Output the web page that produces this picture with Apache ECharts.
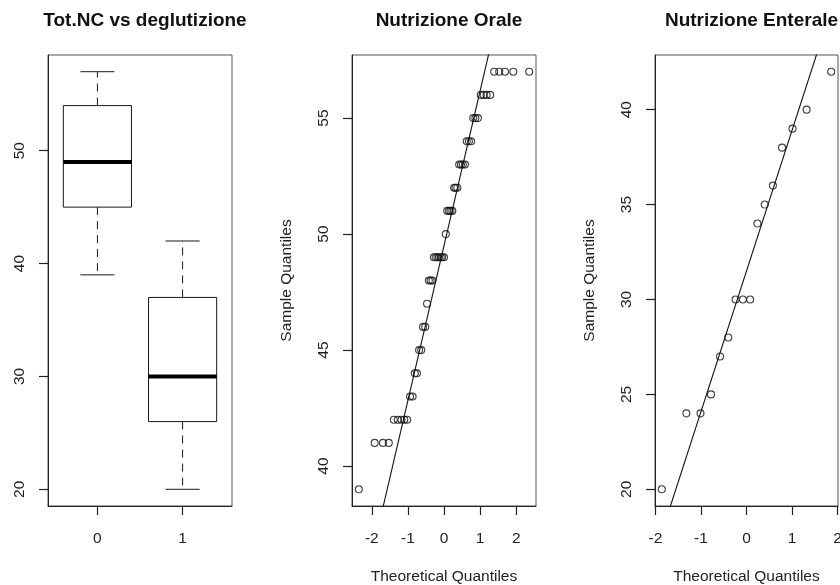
<!DOCTYPE html>
<html>
<head>
<meta charset="utf-8">
<title>Tot.NC vs deglutizione</title>
<script src="https://cdn.jsdelivr.net/npm/echarts@6/dist/echarts.min.js"></script>
<style>
  html, body { margin: 0; padding: 0; background: #fff; }
  #chart { width: 840px; height: 585px; }
</style>
</head>
<body>
<div id="chart"></div>
<script>
// ---- data ----
const groupLabels = ['0', '1'];

// Tot.NC, deglutizione = 0 (oral feeding), sorted
const oraleValues = [
  39, 41, 41, 41, 42, 42, 42, 42, 42, 43, 43, 44, 44, 45, 45, 46, 46, 47, 48, 48, 48,
  49, 49, 49, 49, 49, 49, 49, 50, 51, 51, 51, 51, 52, 52, 52, 53, 53, 53, 53,
  54, 54, 54, 55, 55, 55, 56, 56, 56, 56, 57, 57, 57, 57, 57
];
// theoretical normal quantiles for the 55 ranks
const oraleQuantiles = [
  -2.36, -1.92, -1.69, -1.53, -1.39, -1.28, -1.18, -1.10, -1.02, -0.94, -0.87, -0.81, -0.75, -0.69,
  -0.63, -0.58, -0.52, -0.47, -0.42, -0.37, -0.32, -0.28, -0.23, -0.18, -0.14, -0.09, -0.05, 0,
  0.05, 0.09, 0.14, 0.18, 0.23, 0.28, 0.32, 0.37, 0.42, 0.47, 0.52, 0.58, 0.63, 0.69,
  0.75, 0.81, 0.87, 0.94, 1.02, 1.10, 1.18, 1.28, 1.39, 1.53, 1.69, 1.92, 2.36
];

// Tot.NC, deglutizione = 1 (enteral feeding), sorted
const enteraleValues = [20, 24, 24, 25, 27, 28, 30, 30, 30, 34, 35, 36, 38, 39, 40, 42];
const enteraleQuantiles = [
  -1.86, -1.32, -1.01, -0.78, -0.58, -0.40, -0.24, -0.08,
  0.08, 0.24, 0.40, 0.58, 0.78, 1.01, 1.32, 1.86
];

// tick positions / labels
const boxXTicks = [1, 2];
const boxYTicks = [20, 30, 40, 50];
const oraleYTicks = [40, 45, 50, 55];
const enteraleYTicks = [20, 25, 30, 35, 40];
const quantileTicks = [-2, -1, 0, 1, 2];

// ---- helpers ----
const NORMAL_Q3 = 0.6744898;

function sortedCopy(a) { return a.slice().sort((x, y) => x - y); }

// Tukey five-number summary (min, lower hinge, median, upper hinge, max)
function fivenum(values) {
  const x = sortedCopy(values);
  const n = x.length;
  const n4 = Math.floor((n + 3) / 2) / 2;
  const d = [1, n4, (n + 1) / 2, n + 1 - n4, n];
  return d.map(p => 0.5 * (x[Math.floor(p) - 1] + x[Math.ceil(p) - 1]));
}

// sample quantile, type 7
function quantile(values, p) {
  const x = sortedCopy(values);
  const h = (x.length - 1) * p;
  const lo = Math.floor(h);
  const hi = Math.ceil(h);
  return x[lo] + (h - lo) * (x[hi] - x[lo]);
}

// axis range padded by 4% on each side
function paddedRange(values) {
  const lo = Math.min.apply(null, values);
  const hi = Math.max.apply(null, values);
  const pad = (hi - lo) * 0.04;
  return [lo - pad, hi + pad];
}

// reference line through the first and third quartiles
function qqLine(values, xRange) {
  const y1 = quantile(values, 0.25);
  const y2 = quantile(values, 0.75);
  const slope = (y2 - y1) / (2 * NORMAL_Q3);
  const intercept = y1 + slope * NORMAL_Q3;
  return xRange.map(x => [x, intercept + slope * x]);
}

// ---- layout ----
const FONT = 'Liberation Sans, Arial, Helvetica, sans-serif';
const TEXT = '#222';
const AXIS = '#222';
const grids = [
  { left: 48, top: 55, width: 184, height: 451 },
  { left: 352, top: 55, width: 184, height: 451 },
  { left: 655, top: 55, width: 183, height: 451 }
];

const boxYRange = paddedRange(oraleValues.concat(enteraleValues));
const boxXRange = paddedRange([0.5, groupLabels.length + 0.5]);
const oraleX = paddedRange(oraleQuantiles);
const oraleY = paddedRange(oraleValues);
const enteraleX = paddedRange(enteraleQuantiles);
const enteraleY = paddedRange(enteraleValues);

const boxData = [fivenum(oraleValues), fivenum(enteraleValues)].map((s, i) => [i + 1].concat(s));

function valueAxis(gridIndex, range, ticks, extra) {
  return Object.assign({
    type: 'value',
    gridIndex: gridIndex,
    min: range[0],
    max: range[1],
    axisLine: { show: true, onZero: false, lineStyle: { color: AXIS, width: 1 } },
    splitLine: { show: false },
    axisTick: { show: true, length: 9, customValues: ticks, lineStyle: { color: AXIS, width: 1.2 } },
    axisLabel: {
      customValues: ticks,
      color: TEXT,
      fontFamily: FONT,
      fontSize: 15.5
    }
  }, extra || {});
}

function xAxisFor(gridIndex, range, ticks, labels, name) {
  const ax = valueAxis(gridIndex, range, ticks, {
    position: 'bottom',
    name: name || '',
    nameLocation: 'middle',
    nameGap: 63,
    nameTextStyle: { color: TEXT, fontFamily: FONT, fontSize: 15.5 }
  });
  ax.axisLabel.margin = 25;
  if (labels) {
    ax.axisLabel.formatter = function (v) {
      const i = ticks.indexOf(v);
      return i >= 0 ? labels[i] : '';
    };
  } else {
    ax.axisLabel.formatter = function (v) { return String(v); };
  }
  return ax;
}

function yAxisFor(gridIndex, range, ticks, name) {
  const ax = valueAxis(gridIndex, range, ticks, {
    position: 'left',
    name: name || '',
    nameLocation: 'middle',
    nameGap: 57,
    nameRotate: 90,
    nameTextStyle: { color: TEXT, fontFamily: FONT, fontSize: 15.5 }
  });
  ax.axisLabel.rotate = 90;
  ax.axisLabel.margin = 20;
  return ax;
}

function titleFor(text, grid) {
  return {
    text: text,
    left: grid.left + grid.width / 2,
    top: 6,
    textAlign: 'center',
    textStyle: { fontFamily: FONT, fontWeight: 'bold', fontSize: 19, color: '#111' }
  };
}

// box-and-whisker drawing: dashed whiskers, half-width staples, thick median
function renderBox(params, api) {
  const x = api.value(0);
  const lo = api.value(1), q1 = api.value(2), med = api.value(3), q3 = api.value(4), hi = api.value(5);
  const half = 0.4, staple = 0.2;
  const c = api.coord([x, med]);
  const pLo = api.coord([x, lo]);
  const pHi = api.coord([x, hi]);
  const pQ1 = api.coord([x - half, q1]);
  const pQ3 = api.coord([x + half, q3]);
  const sL = api.coord([x - staple, lo])[0];
  const sR = api.coord([x + staple, lo])[0];
  const bL = pQ1[0], bR = pQ3[0];
  const stroke = { stroke: '#1a1a1a', lineWidth: 1, fill: null };
  const dashed = { stroke: '#1a1a1a', lineWidth: 1, lineDash: [8, 6], fill: null };
  return {
    type: 'group',
    children: [
      { type: 'line', shape: { x1: c[0], y1: pQ3[1], x2: c[0], y2: pHi[1] }, style: dashed },
      { type: 'line', shape: { x1: c[0], y1: pQ1[1], x2: c[0], y2: pLo[1] }, style: dashed },
      { type: 'line', shape: { x1: sL, y1: pHi[1], x2: sR, y2: pHi[1] }, style: stroke },
      { type: 'line', shape: { x1: sL, y1: pLo[1], x2: sR, y2: pLo[1] }, style: stroke },
      { type: 'rect', shape: { x: bL, y: pQ3[1], width: bR - bL, height: pQ1[1] - pQ3[1] },
        style: { stroke: '#1a1a1a', lineWidth: 1, fill: '#fff' } },
      { type: 'line', shape: { x1: bL, y1: c[1], x2: bR, y2: c[1] },
        style: { stroke: '#000', lineWidth: 4, fill: null } }
    ]
  };
}

const pointStyle = { color: 'rgba(0,0,0,0)', borderColor: '#111', borderWidth: 1.1 };
const lineStyle = { color: '#111', width: 1.1 };

const option = {
  animation: false,
  backgroundColor: '#fff',
  title: [
    titleFor('Tot.NC vs deglutizione', grids[0]),
    titleFor('Nutrizione Orale', grids[1]),
    titleFor('Nutrizione Enterale', grids[2])
  ],
  grid: grids.map(g => Object.assign({
    show: true, borderColor: '#555', borderWidth: 1, backgroundColor: 'transparent',
    containLabel: false, outerBoundsMode: 'none'
  }, g)),
  xAxis: [
    xAxisFor(0, boxXRange, boxXTicks, groupLabels),
    xAxisFor(1, oraleX, quantileTicks, null, 'Theoretical Quantiles'),
    xAxisFor(2, enteraleX, quantileTicks, null, 'Theoretical Quantiles')
  ],
  yAxis: [
    yAxisFor(0, boxYRange, boxYTicks),
    yAxisFor(1, oraleY, oraleYTicks, 'Sample Quantiles'),
    yAxisFor(2, enteraleY, enteraleYTicks, 'Sample Quantiles')
  ],
  series: [
    {
      type: 'custom',
      xAxisIndex: 0,
      yAxisIndex: 0,
      renderItem: renderBox,
      encode: { x: 0, y: [1, 2, 3, 4, 5] },
      data: boxData,
      silent: true
    },
    {
      type: 'scatter',
      xAxisIndex: 1,
      yAxisIndex: 1,
      symbol: 'circle',
      symbolSize: 7,
      itemStyle: pointStyle,
      data: oraleQuantiles.map((q, i) => [q, oraleValues[i]]),
      silent: true
    },
    {
      type: 'line',
      xAxisIndex: 1,
      yAxisIndex: 1,
      showSymbol: false,
      clip: true,
      lineStyle: lineStyle,
      data: qqLine(oraleValues, [oraleX[0] - 1, oraleX[1] + 1]),
      silent: true
    },
    {
      type: 'scatter',
      xAxisIndex: 2,
      yAxisIndex: 2,
      symbol: 'circle',
      symbolSize: 7,
      itemStyle: pointStyle,
      data: enteraleQuantiles.map((q, i) => [q, enteraleValues[i]]),
      silent: true
    },
    {
      type: 'line',
      xAxisIndex: 2,
      yAxisIndex: 2,
      showSymbol: false,
      clip: true,
      lineStyle: lineStyle,
      data: qqLine(enteraleValues, [enteraleX[0] - 1, enteraleX[1] + 1]),
      silent: true
    }
  ]
};

const chart = echarts.init(document.getElementById('chart'), null, { renderer: 'canvas' });
chart.setOption(option);
</script>
</body>
</html>
